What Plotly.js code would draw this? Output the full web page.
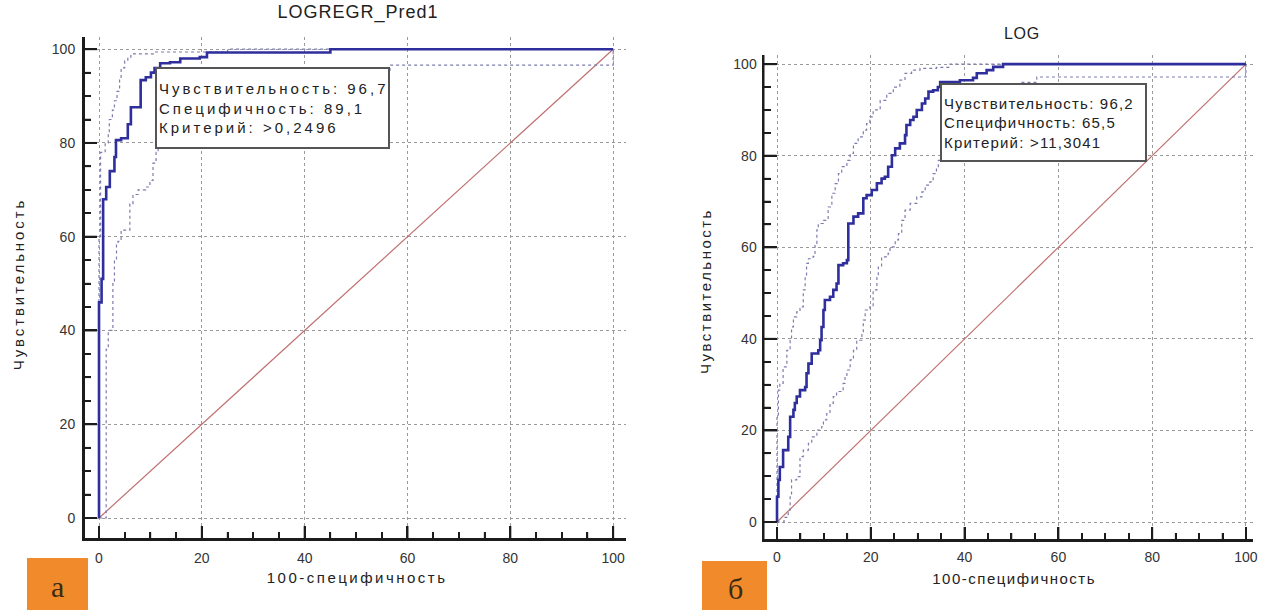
<!DOCTYPE html>
<html>
<head>
<meta charset="utf-8">
<script src="https://cdn.plot.ly/plotly-3.0.1.min.js"></script>
<style>
html,body{margin:0;padding:0;background:#fff;}
#chart{width:1264px;height:610px;}
/* wide letter spacing of the original screenshot */
.annotation[data-index="0"] text{letter-spacing:1px;}
.annotation[data-index="1"] text{letter-spacing:0.7px;}
.annotation[data-index="2"] text{letter-spacing:2.5px;}
.annotation[data-index="3"] text{letter-spacing:1.5px;}
.annotation[data-index="4"] text{letter-spacing:2.9px;}
.annotation[data-index="5"] text{letter-spacing:2.5px;}
.annotation[data-index="6"] text{letter-spacing:3px;}
.annotation[data-index="7"] text{letter-spacing:1.2px;}
</style>
</head>
<body>
<div id="chart"></div>
<script>
// ---------- Data ----------
const titleA = "LOGREGR_Pred1";
const titleB = "LOG";
const xTitle = "100-специфичность";
const yTitle = "Чувствительность";
const panelLabels = ["а", "б"];
const boxA = ["Чувствительность: 96,7", "Специфичность: 89,1", "Критерий: >0,2496"];
const boxB = ["Чувствительность: 96,2", "Специфичность: 65,5", "Критерий: >11,3041"];
const majorTicks = [0, 20, 40, 60, 80, 100];
const minorTicks = [5, 10, 15, 25, 30, 35, 45, 50, 55, 65, 70, 75, 85, 90, 95];

const diagX = [0, 100];
const diagY = [0, 100];

// Panel а: LOGREGR_Pred1
const aMainX = [0, 0, 0.5, 0.8, 1.4, 2.1, 3.0, 3.3, 4.3, 5.6, 6.2, 6.6, 8.1, 9.1, 10.1, 10.8, 11.9, 13.8, 15.8, 19.6, 21, 45, 100];
const aMainY = [0, 46, 51, 68, 70.6, 74, 77, 80.6, 81, 84, 87.6, 87.6, 93.4, 94, 95, 96, 97, 97.2, 98, 98.3, 99.3, 100, 100];
const aUpX = [0, 0, 0.3, 1.2, 1.8, 2.0, 2.6, 3.0, 3.5, 4.0, 4.3, 5.0, 5.6, 6.2, 11, 25, 100];
const aUpY = [0, 60, 78, 80, 82, 85, 87, 89, 91, 93.4, 96, 97.5, 98.3, 99, 99.4, 100, 100];
const aLoX = [0, 1.4, 1.8, 2.7, 3.0, 3.4, 3.7, 4.3, 6.0, 6.6, 7.6, 9.1, 9.9, 10.5, 11.1, 11.5, 12, 13, 15, 20, 56.6, 100, 100];
const aLoY = [0, 36, 40, 50, 55, 58.6, 59, 61.4, 67, 69, 70, 70.6, 72, 75.7, 78, 85, 90, 93, 94.5, 95.5, 96.6, 96.6, 100];

// Panel б: LOG
const bMainX = [0, 0, 0.3, 0.6, 1.3, 2.4, 2.8, 3.5, 3.8, 4.2, 4.9, 6.0, 6.3, 6.7, 7.4, 8.8, 9.2, 9.5, 9.9, 10.2, 11.3, 12, 12.7, 13.1, 14.1, 14.9, 15.2, 16.3, 17.3, 18.4, 19.1, 20.2, 21.3, 22.3, 23, 23.7, 24.5, 25.2, 26.2, 27.3, 27.6, 28.4, 29.1, 29.8, 30.9, 31.6, 32.3, 33.3, 34.3, 34.8, 39, 41.8, 42.6, 44.7, 46.1, 48.2, 100];
const bMainY = [0, 5.5, 9.2, 12, 15.7, 18.6, 23, 24.5, 26, 27.4, 28.8, 29.5, 32.5, 34.6, 36.8, 37.5, 39.7, 42.6, 46.3, 48.5, 49.2, 50.7, 52.1, 56.1, 56.5, 57.2, 65.2, 66.7, 67.4, 70.7, 71.4, 72.5, 74, 75, 75.4, 77.6, 80.1, 81.6, 82.7, 84.5, 86.7, 87.8, 88.5, 90, 91.4, 92.5, 94, 94.3, 95, 96.1, 96.5, 97, 98, 98.7, 99.4, 100, 100];
const bUpX = [0, 0, 0.3, 0.6, 1.3, 2.1, 2.8, 3.1, 3.5, 4.2, 4.9, 5.6, 6, 6.3, 6.7, 7.7, 8.1, 8.5, 8.8, 9.9, 10.9, 11.7, 12.4, 13.1, 13.8, 14.9, 15.6, 16.3, 17.3, 18.4, 19.1, 19.8, 20.5, 22, 23.4, 24.8, 26.2, 27.3, 28.7, 30.5, 34, 36.9, 100];
const bUpY = [0, 23, 28.8, 30.3, 33.9, 37.5, 39.7, 42.6, 44.8, 45.9, 47, 50.7, 53.6, 56.5, 57.5, 58, 60.8, 63.8, 65.2, 65.9, 68.8, 71.8, 73.9, 76.1, 77.6, 79, 80.5, 82.7, 84.1, 85.6, 87, 88.5, 90, 92.1, 93.6, 95, 96.5, 98, 98.7, 99.1, 99.3, 100, 100];
const bLoX = [0, 1.5, 2.4, 2.8, 3.1, 4.2, 4.9, 5.6, 6.7, 7.4, 8.5, 9.5, 9.9, 10.6, 11.3, 12, 12.7, 13.8, 14.1, 14.5, 14.9, 15.6, 16.3, 17, 18.1, 18.4, 18.8, 19.8, 20.5, 21.3, 21.6, 22.3, 23.7, 24.1, 25.2, 25.9, 26.6, 27.3, 28.4, 29.8, 30.9, 31.6, 32.6, 33.3, 34, 34.4, 36, 38, 40, 43, 47, 52, 55.4, 100, 100];
const bLoY = [0, 1, 2.6, 5.5, 9.2, 9.9, 14.3, 15.7, 17.2, 18.6, 20.1, 20.8, 22.3, 23.7, 25.9, 27.4, 28.5, 28.8, 30.3, 31.7, 33.2, 35.4, 37.5, 39.7, 41.2, 44.1, 46.3, 47, 50.7, 53.6, 55.7, 57.9, 58.7, 60.1, 61.6, 63, 65.9, 68.1, 69.6, 71, 72.1, 73.6, 74.3, 76.1, 77.6, 79, 84, 88, 91, 93, 95, 96, 97.2, 97.2, 100];

// ---------- Styles ----------
const W = 1264, H = 610;
const mainColor = '#2e2e9c';
const ciColor = '#7c7cb0';
const diagColor = '#c07070';
const axisColor = '#1c1c1c';
const fontFam = 'Arial, "Liberation Sans", sans-serif';
const serifFam = '"Liberation Serif", "DejaVu Serif", serif';

function px2x(p){ return p / W; }
function px2y(p){ return 1 - p / H; }

function traces(xa, ya, mx, my, ux, uy, lx, ly){
  return [
    {x: diagX, y: diagY, xaxis: xa, yaxis: ya, mode: 'lines', line: {color: diagColor, width: 1.2}, hoverinfo: 'skip'},
    {x: lx, y: ly, xaxis: xa, yaxis: ya, mode: 'lines', line: {color: ciColor, width: 1.2, dash: 'dot', shape: 'hv'}, hoverinfo: 'skip'},
    {x: ux, y: uy, xaxis: xa, yaxis: ya, mode: 'lines', line: {color: ciColor, width: 1.2, dash: 'dot', shape: 'hv'}, hoverinfo: 'skip'},
    {x: mx, y: my, xaxis: xa, yaxis: ya, mode: 'lines', line: {color: mainColor, width: 2.6, shape: 'hv'}, hoverinfo: 'skip'}
  ];
}

function axis(domain, range, anchor, standoff){
  return {
    domain: domain, range: range, anchor: anchor,
    tick0: 0, dtick: 20,
    ticks: 'inside', ticklen: 13, tickwidth: 2, tickcolor: axisColor,
    showline: true, linewidth: 2, linecolor: axisColor,
    showgrid: true, gridcolor: '#9a9a9a', gridwidth: 1, griddash: 'dot',
    zeroline: false,
    ticklabelstandoff: standoff,
    tickfont: {family: fontFam, size: 14, color: '#333'},
    minor: {dtick: 5, ticks: 'inside', ticklen: 7, tickwidth: 1.5, tickcolor: axisColor, showgrid: false}
  };
}

// Axis frame (line + inside ticks) as top-layer shapes, tied to the axes' own scales
function frameShapes(xa, ya){
  const s = [];
  const blk = (w) => ({color: axisColor, width: w});
  s.push({type: 'line', xref: xa + ' domain', yref: ya + ' domain', x0: 0, x1: 1, y0: 0, y1: 0, line: blk(2), layer: 'above'});
  s.push({type: 'line', xref: xa + ' domain', yref: ya + ' domain', x0: 0, x1: 0, y0: 0, y1: 1, line: blk(2), layer: 'above'});
  [[majorTicks, 13, 2], [minorTicks, 7, 1.5]].forEach(function(g){
    g[0].forEach(function(v){
      s.push({type: 'line', xref: xa, yref: ya + ' domain', ysizemode: 'pixel', yanchor: 0, x0: v, x1: v, y0: 0, y1: g[1], line: blk(g[2]), layer: 'above'});
      s.push({type: 'line', xref: xa + ' domain', yref: ya, xsizemode: 'pixel', xanchor: 0, y0: v, y1: v, x0: 0, x1: g[1], line: blk(g[2]), layer: 'above'});
    });
  });
  return s;
}

const data = [].concat(
  traces('x', 'y', aMainX, aMainY, aUpX, aUpY, aLoX, aLoY),
  traces('x2', 'y2', bMainX, bMainY, bUpX, bUpY, bLoX, bLoY)
);

const txt = (size) => ({family: fontFam, size: size, color: '#222'});

const layout = {
  width: W, height: H,
  margin: {l: 0, r: 0, t: 0, b: 0},
  showlegend: false,
  xaxis: axis([px2x(84), px2x(626)], [-2.92, 102.5], 'y', 5),
  yaxis: axis([px2y(539), px2y(37)], [-4.48, 102.6], 'x', 4),
  xaxis2: axis([px2x(763.5), px2x(1253)], [-2.88, 101.5], 'y2', 3),
  yaxis2: axis([px2y(540), px2y(55)], [-3.93, 102], 'x2', 2),
  shapes: [
    {type: 'rect', xref: 'paper', yref: 'paper', x0: px2x(27), x1: px2x(88), y0: px2y(610), y1: px2y(558), fillcolor: '#f08a2a', line: {width: 0}},
    {type: 'rect', xref: 'paper', yref: 'paper', x0: px2x(702), x1: px2x(767), y0: px2y(610), y1: px2y(561), fillcolor: '#f08a2a', line: {width: 0}}
  ].concat(frameShapes('x', 'y'), frameShapes('x2', 'y2')),
  annotations: [
    {text: titleA, xref: 'paper', yref: 'paper', x: px2x(358), y: px2y(13), xanchor: 'center', yanchor: 'middle', showarrow: false, font: txt(18)},
    {text: titleB, xref: 'paper', yref: 'paper', x: px2x(1022), y: px2y(34), xanchor: 'center', yanchor: 'middle', showarrow: false, font: txt(16)},
    {text: xTitle, xref: 'paper', yref: 'paper', x: px2x(357), y: px2y(577), xanchor: 'center', yanchor: 'middle', showarrow: false, font: txt(15)},
    {text: xTitle, xref: 'paper', yref: 'paper', x: px2x(1014), y: px2y(578), xanchor: 'center', yanchor: 'middle', showarrow: false, font: txt(15)},
    {text: yTitle, xref: 'paper', yref: 'paper', x: px2x(18), y: px2y(284), xanchor: 'center', yanchor: 'middle', textangle: -90, showarrow: false, font: txt(15)},
    {text: yTitle, xref: 'paper', yref: 'paper', x: px2x(705), y: px2y(291), xanchor: 'center', yanchor: 'middle', textangle: -90, showarrow: false, font: txt(15)},
    {text: boxA.join('<br>'), xref: 'paper', yref: 'paper', x: px2x(155), y: px2y(67), xanchor: 'left', yanchor: 'top', align: 'left', valign: 'middle', width: 227, height: 74, showarrow: false, bgcolor: '#fff', bordercolor: '#555', borderwidth: 2, borderpad: 2, font: txt(15)},
    {text: boxB.join('<br>'), xref: 'paper', yref: 'paper', x: px2x(940), y: px2y(83), xanchor: 'left', yanchor: 'top', align: 'left', valign: 'middle', width: 199, height: 71, showarrow: false, bgcolor: '#fff', bordercolor: '#555', borderwidth: 2, borderpad: 2, font: txt(15)},
    {text: panelLabels[0], xref: 'paper', yref: 'paper', x: px2x(57), y: px2y(586), xanchor: 'center', yanchor: 'middle', showarrow: false, font: {family: serifFam, size: 30, color: '#3a2a14'}},
    {text: panelLabels[1], xref: 'paper', yref: 'paper', x: px2x(735), y: px2y(588), xanchor: 'center', yanchor: 'middle', showarrow: false, font: {family: serifFam, size: 30, color: '#3a2a14'}}
  ]
};

Plotly.newPlot('chart', data, layout, {displayModeBar: false});
</script>
</body>
</html>
